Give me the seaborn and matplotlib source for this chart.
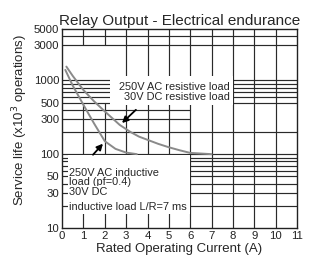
import pandas as pd
import matplotlib
matplotlib.use('Agg')
import matplotlib.pyplot as plt
from matplotlib.patches import Rectangle
from matplotlib.ticker import FixedLocator, FixedFormatter, NullLocator
import seaborn as sns

# values
resistive_x = [0.2, 0.5, 1.0, 1.5, 2.0, 2.7, 3.2, 3.6, 4.5, 5.0, 5.5, 6.0, 7.0]
resistive_y = [1540, 1150, 740, 520, 380, 249, 200, 173, 138, 124, 113, 104, 100]
inductive_x = [0.15, 0.5, 1.0, 1.5, 2.0, 2.5, 3.0, 3.5]
inductive_y = [1390, 850, 466, 260, 150, 118, 105, 100]

x_ticks = list(range(0, 12))
y_ticks = [10, 30, 50, 100, 300, 500, 1000, 3000, 5000]

# the datasheet grid is drawn with gaps: (value, start, end)
h_grid = [(4000, 0, 11), (3000, 0, 11),
          (1000, 0, 11), (900, 0, 11), (800, 0, 11), (700, 0, 11), (600, 0, 11), (500, 0, 11),
          (400, 0, 6), (300, 0, 6), (200, 0, 11), (100, 0, 11),
          (90, 0, 11), (80, 0, 11), (70, 0, 11), (60, 0, 11), (50, 0, 11), (40, 0, 11),
          (30, 0, 11), (20, 0, 11)]
v_grid = [(1, 10, 500), (1, 3000, 5000), (2, 10, 500), (2, 3000, 5000),
          (3, 10, 5000), (4, 10, 5000), (5, 10, 5000), (6, 10, 5000),
          (7, 10, 5000), (8, 10, 5000), (9, 10, 5000), (10, 10, 5000)]

resistive_label = '250V AC resistive load\n30V DC resistive load'
inductive_lines = ['250V AC inductive', 'load (pf=0.4)', '30V DC', 'inductive load L/R=7 ms']
inductive_line_y = [56, 42.5, 31, 19.4]

df = pd.concat([
    pd.DataFrame({'current': resistive_x, 'life': resistive_y, 'load': 'resistive'}),
    pd.DataFrame({'current': inductive_x, 'life': inductive_y, 'load': 'inductive'}),
])

sns.set_theme(style='white')
plt.rcParams['font.family'] = ['Liberation Sans Narrow', 'Liberation Sans', 'DejaVu Sans']

fig = plt.figure(figsize=(3.12, 2.65), dpi=100)
ax = fig.add_axes([0.199, 0.14, 0.753, 0.751])

for y, x0, x1 in h_grid:
    ax.plot([x0, x1], [y, y], color='#2a2a2a', lw=0.85, zorder=1)
for x, y0, y1 in v_grid:
    ax.plot([x, x], [y0, y1], color='#2a2a2a', lw=0.85, zorder=1)

sns.lineplot(data=df, x='current', y='life', hue='load', palette=['#8a8a8a', '#8a8a8a'],
             linewidth=1.4, legend=False, ax=ax, zorder=4, sort=False)

ax.set_yscale('log')
ax.set_xlim(0, 11)
ax.set_ylim(10, 5000)
ax.xaxis.set_major_locator(FixedLocator(x_ticks))
ax.yaxis.set_major_locator(FixedLocator(y_ticks))
ax.yaxis.set_major_formatter(FixedFormatter([str(v) for v in y_ticks]))
ax.yaxis.set_minor_locator(NullLocator())
ax.tick_params(axis='both', length=0, pad=2, labelsize=8.2, colors='#222222')

for s in ax.spines.values():
    s.set_color('#222222')
    s.set_linewidth(1.0)

# white label boxes
ax.add_patch(Rectangle((2.25, 470), 8.0 - 2.25, 1150 - 470, facecolor='white', edgecolor='none', zorder=2))
ax.text(7.85, 700, resistive_label, ha='right', va='center',
        multialignment='right', fontsize=7.9, linespacing=0.95, zorder=3)
ax.add_patch(Rectangle((0.28, 15.5), 5.72, 97 - 15.5, facecolor='white', edgecolor='none', zorder=2))
for line, y in zip(inductive_lines, inductive_line_y):
    ax.text(0.33, y, line, ha='left', va='center', fontsize=7.9,
            bbox=dict(facecolor='white', edgecolor='none', pad=0.5), zorder=3)

arrow = dict(arrowstyle='-|>', color='black', lw=1.3, mutation_scale=9)
ax.annotate('', xy=(2.71, 249), xytext=(3.55, 424), arrowprops=arrow, zorder=5)
ax.annotate('', xy=(2.0, 148), xytext=(1.36, 92), arrowprops=arrow, zorder=5)

ax.set_title('Relay Output - Electrical endurance', fontsize=11, pad=3)
ax.set_xlabel('Rated Operating Current (A)', fontsize=9.5, labelpad=1.5)
ax.set_ylabel('Service life (x10$^3$ operations)', fontsize=9.5, labelpad=2)
ax.yaxis.set_label_coords(-0.136, 0.54)

fig.savefig('out.png', dpi=100)
